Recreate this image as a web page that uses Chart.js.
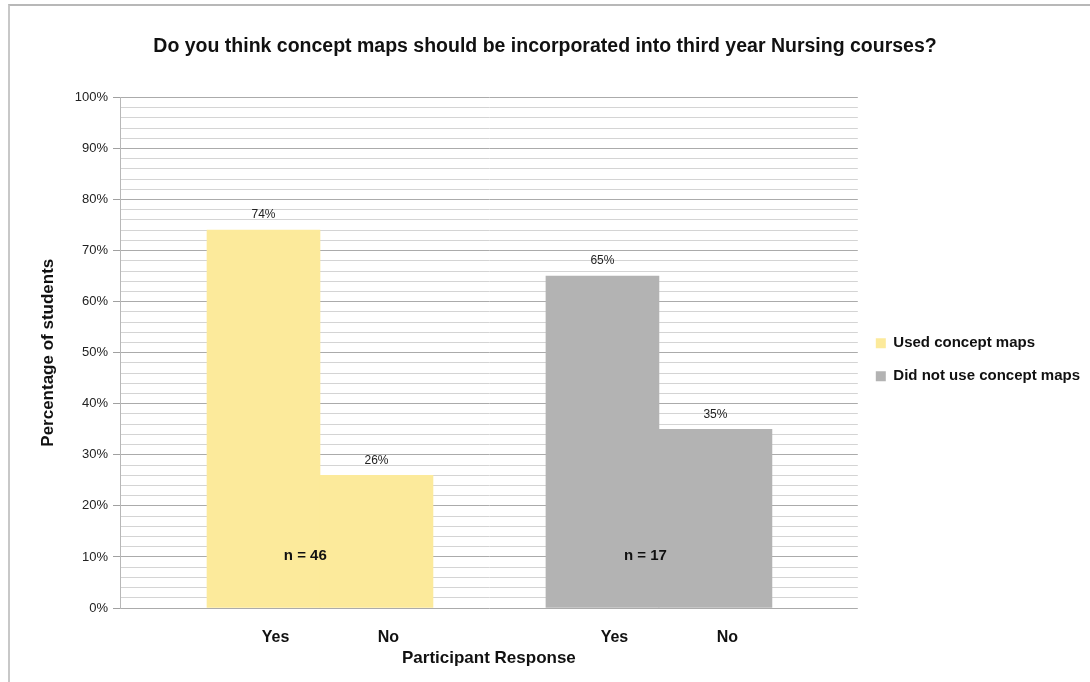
<!DOCTYPE html>
<html>
<head>
<meta charset="utf-8">
<script src="https://cdn.jsdelivr.net/npm/chart.js@4"></script>
<style>
  body { margin: 0; background: #fff; }
  #wrap { position: relative; width: 1090px; height: 682px; }
  #frame { position: absolute; left: 8px; top: 4px; right: 0; bottom: 0; border-top: 2px solid #b8b8b8; border-left: 2px solid #c8c8c8; }
  canvas { position: absolute; left: 0; top: 0; }
</style>
</head>
<body>
<div id="wrap">
  <div id="frame"></div>
  <canvas id="chart" width="1090" height="682"></canvas>
</div>
<script>
// chart data
const titleText = 'Do you think concept maps should be incorporated into third year Nursing courses?';
const seriesNames = ['Used concept maps', 'Did not use concept maps'];
const responses = ['Yes', 'No', 'Yes', 'No'];
const responseX = [1, 2, 4, 5];
const usedX = [1, 2];
const usedValues = [74, 26];
const notUsedX = [4, 5];
const notUsedValues = [65, 35];
const groupSizes = ['n = 46', 'n = 17'];
const groupSizeX = [1.37, 4.38];
const groupSizeY = 10.2;

const yellow = '#fcea9b';
const grey = '#b3b3b3';

const toPoints = (xs, ys) => xs.map((x, i) => ({ x: x, y: ys[i] }));

// writes the % above each bar and the n = .. notes
const barNotes = {
    id: 'barNotes',
    afterDatasetsDraw(chart) {
        const ctx = chart.ctx;
        const xs = chart.scales.x;
        const ys = chart.scales.y;
        ctx.save();
        ctx.textAlign = 'center';
        ctx.textBaseline = 'middle';
        ctx.fillStyle = '#222';
        ctx.font = '12px "Liberation Sans", Arial, sans-serif';
        chart.data.datasets.forEach((ds, i) => {
            chart.getDatasetMeta(i).data.forEach((bar, j) => {
                ctx.fillText(ds.data[j].y + '%', bar.x, bar.y - 15);
            });
        });
        ctx.font = 'bold 15px "Liberation Sans", Arial, sans-serif';
        ctx.fillStyle = '#111';
        groupSizes.forEach((txt, i) => {
            ctx.fillText(txt, xs.getPixelForValue(groupSizeX[i]), ys.getPixelForValue(groupSizeY));
        });
        ctx.restore();
    }
};

Chart.defaults.font.family = '"Liberation Sans", Arial, sans-serif';
Chart.defaults.color = '#222';

let ctx = document.getElementById('chart');
let myChart = new Chart(ctx, {
    type: 'bar',
    data: {
        datasets: [{
            label: seriesNames[0],
            data: toPoints(usedX, usedValues),
            backgroundColor: yellow,
            barPercentage: 1,
            categoryPercentage: 1
        }, {
            label: seriesNames[1],
            data: toPoints(notUsedX, notUsedValues),
            backgroundColor: grey,
            barPercentage: 1,
            categoryPercentage: 1
        }]
    },
    options: {
        responsive: false,
        animation: false,
        layout: { padding: { left: 0, right: 0, top: 0, bottom: 0 } },
        plugins: {
            title: {
                display: true,
                text: titleText,
                color: '#111',
                font: { size: 19.5, weight: 'bold' },
                padding: { top: 35, bottom: 39 }
            },
            legend: {
                position: 'right',
                fullSize: false,
                // empty legend title only pushes the two items down a little
                title: { display: true, text: '', font: { size: 10 }, padding: 1 },
                labels: {
                    boxWidth: 10,
                    boxHeight: 10,
                    padding: 18,
                    color: '#111',
                    font: { size: 15, weight: 'bold' }
                }
            },
            tooltip: { enabled: false }
        },
        scales: {
            x: {
                type: 'linear',
                stacked: true,
                offset: false,
                min: -0.27,
                max: 6.26,
                afterFit: (axis) => { axis.height = 74; },
                grid: { display: false, drawTicks: false },
                border: { display: false },
                afterBuildTicks: (axis) => {
                    axis.ticks = responseX.map(v => ({ value: v }));
                },
                ticks: {
                    padding: 20,
                    labelOffset: 12,
                    color: '#111',
                    font: { size: 16, weight: 'bold' },
                    callback: (value) => responses[responseX.indexOf(value)]
                },
                title: {
                    display: true,
                    text: 'Participant Response',
                    color: '#111',
                    font: { size: 17, weight: 'bold' },
                    padding: { top: 4, bottom: 13 }
                }
            },
            y: {
                min: 0,
                max: 100,
                afterFit: (axis) => { axis.width = 120; },
                ticks: {
                    stepSize: 2,
                    autoSkip: false,
                    padding: 5,
                    font: { size: 13 },
                    callback: (value) => value % 10 === 0 ? value + '%' : ''
                },
                grid: {
                    color: (c) => c.tick.value % 10 === 0 ? '#ababab' : '#d4d4d4',
                    tickColor: (c) => c.tick.value % 10 === 0 ? '#a0a0a0' : 'rgba(0,0,0,0)',
                    tickLength: 7
                },
                border: { color: '#b8b8b8' },
                title: {
                    display: true,
                    text: 'Percentage of students',
                    color: '#111',
                    font: { size: 17, weight: 'bold' },
                    padding: { top: 38, bottom: 0 }
                }
            }
        }
    },
    plugins: [barNotes]
});
</script>
</body>
</html>
